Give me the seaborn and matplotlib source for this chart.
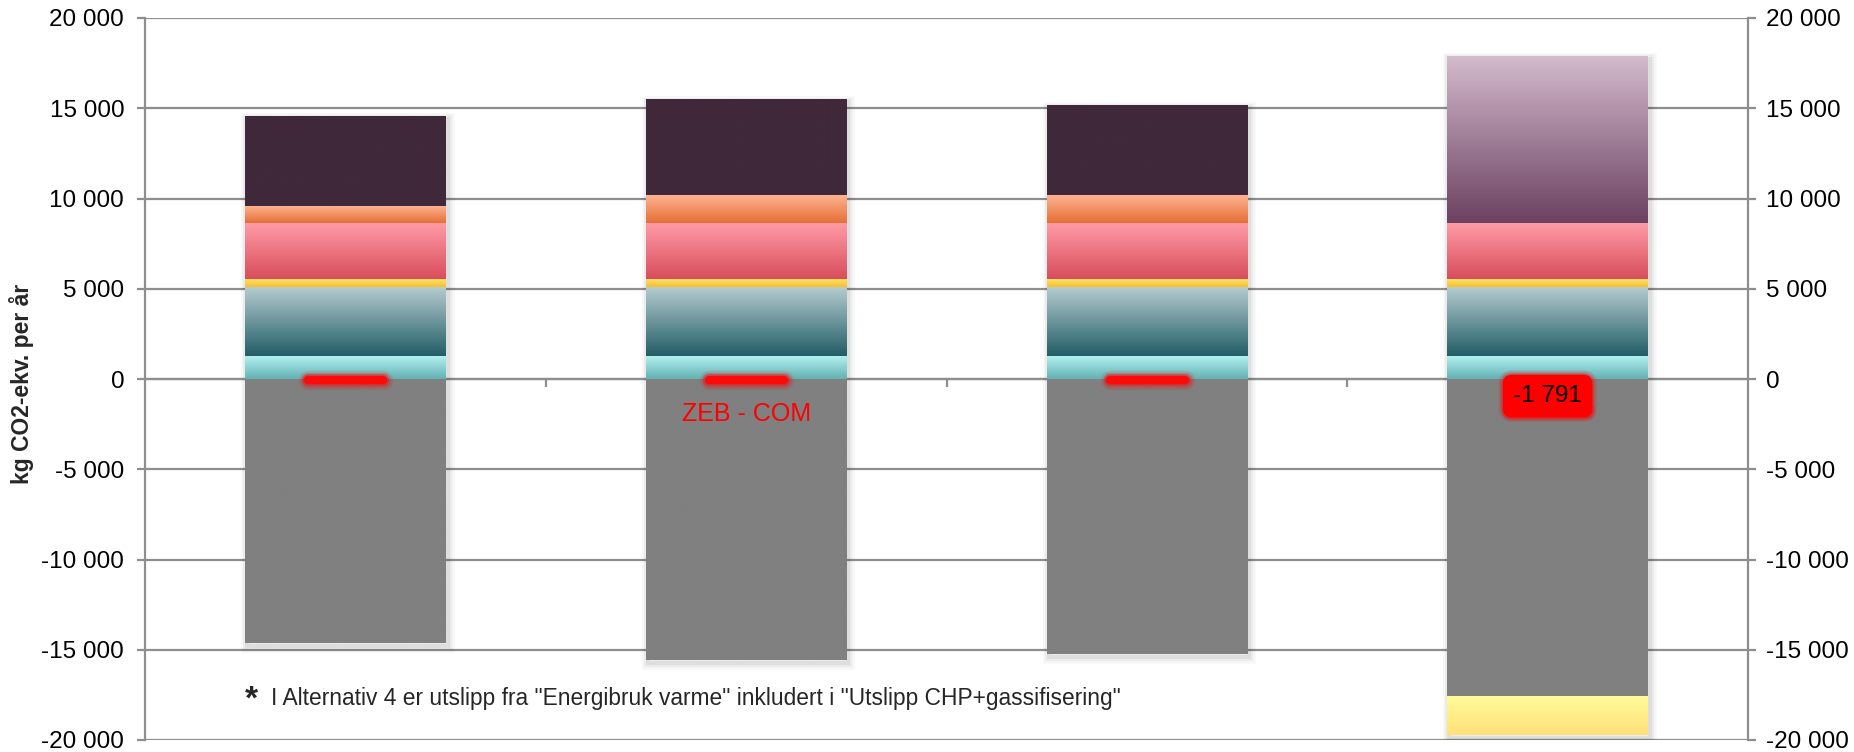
import numpy as np
import matplotlib
matplotlib.use("Agg")
import matplotlib.pyplot as plt
import seaborn as sns
from matplotlib import font_manager, patheffects, transforms
from matplotlib.patches import Rectangle
from matplotlib.markers import MarkerStyle
from matplotlib.colors import to_rgb
from matplotlib.ticker import FuncFormatter

# ---------------------------------------------------------------- data
categories = ["Alternativ 1", "Alternativ 2", "Alternativ 3", "Alternativ 4"]

# emissions stacked upwards from zero (kg CO2-ekv. per år)
drift = [1260, 1260, 1260, 1260]
materialer = [3810, 3810, 3810, 3810]
transport = [450, 450, 450, 450]
energibruk_el = [3100, 3100, 3100, 3100]
energibruk_varme = [990, 1600, 1600, 0]
utslipp_annet = [4980, 5310, 4980, 0]
utslipp_chp = [0, 0, 0, 9300]

# credits stacked downwards from zero
eksport_el = [-14630, -15570, -15240, -17560]
eksport_varme = [0, 0, 0, -2151]

yticks = list(range(-20000, 20001, 5000))
footnote = 'I Alternativ 4 er utslipp fra "Energibruk varme" inkludert i "Utslipp CHP+gassifisering"'
ylabel = "kg CO2-ekv. per år"
zero_label = "ZEB - COM"

# series, with gradient colours (top, bottom)
series = [
    (drift, ("#b4f0f0", "#62b1b3")),
    (materialer, ("#b5ccd0", "#225d66")),
    (transport, ("#ffe670", "#f6be2c")),
    (energibruk_el, ("#ff9ba6", "#d84d5b")),
    (energibruk_varme, ("#ffb694", "#e56f36")),
    (utslipp_annet, ("#3f293b", "#3f293b")),
    (utslipp_chp, ("#d4bbcd", "#6b4161")),
    (eksport_el, ("#808080", "#808080")),
    (eksport_varme, ("#fffb99", "#ffe07a")),
]

# ---------------------------------------------------------------- style
sns.set_theme(style="white")
names = {f.name for f in font_manager.fontManager.ttflist}
base_font = "Liberation Sans" if "Liberation Sans" in names else "DejaVu Sans"
narrow_font = "Liberation Sans Narrow" if "Liberation Sans Narrow" in names else base_font
plt.rcParams["font.family"] = [base_font, "DejaVu Sans"]

GRID = "#8e8e8e"
W, H = 1854, 752
fig = plt.figure(figsize=(W / 100, H / 100), dpi=100)
ax = fig.add_axes([145 / W, 1 - 740 / H, (1748 - 145) / W, (740 - 18) / H])

# ---------------------------------------------------------------- bars
pos_base = np.zeros(len(categories))
neg_base = np.zeros(len(categories))
for values, (c_top, c_bot) in series:
    vals = np.asarray(values, dtype=float)
    sns.barplot(x=categories, y=vals, color=c_bot, width=0.5, errorbar=None,
                ax=ax, zorder=2.9, linewidth=0)
    cont = ax.containers[-1]
    for i, patch in enumerate(cont.patches):
        v = vals[i]
        if v >= 0:
            bottom = pos_base[i]
            pos_base[i] += v
        else:
            bottom = neg_base[i]
            neg_base[i] += v
        patch.set_y(bottom)
        patch.set_height(v)
        if v == 0:
            patch.set_visible(False)
            continue
        x0 = patch.get_x()
        x1 = x0 + patch.get_width()
        lo, hi = min(bottom, bottom + v), max(bottom, bottom + v)
        t = np.linspace(0, 1, 256)[:, None]
        grad = (1 - t) * np.array(to_rgb(c_bot)) + t * np.array(to_rgb(c_top))
        im = ax.imshow(grad[:, None, :], extent=(x0, x1, lo, hi), origin="lower",
                       aspect="auto", interpolation="bilinear", zorder=3)
        im.set_clip_path(patch)

# soft drop shadow around every column
shadow_tr = transforms.offset_copy(ax.transData, fig=fig, x=2, y=-3, units="dots")
for i in range(len(categories)):
    top, bottom = pos_base[i], neg_base[i]
    for lw, a in [(9, 0.03), (6, 0.045), (3, 0.06)]:
        ax.add_patch(Rectangle((i - 0.25, bottom), 0.5, top - bottom, fc="none",
                               ec="black", lw=lw, alpha=a, transform=shadow_tr,
                               zorder=2.8))

# net result per alternative, drawn as glowing red dashes
net = pos_base + neg_base
xs = np.arange(len(categories))
dash = MarkerStyle("_", capstyle="round")
for extra, a in [(8, 0.12), (5, 0.2), (2.5, 0.35)]:
    ax.plot(xs, net, ls="none", marker=dash, ms=54, mew=6 + extra,
            color="red", alpha=a, zorder=5)
ax.plot(xs, net, ls="none", marker=dash, ms=54, mew=6, color="#ff0a0a", zorder=5.5)

ax.annotate(zero_label, xy=(1, net[1]), xytext=(0, -25), textcoords="offset points",
            ha="center", va="center", color="#ff0000", fontsize=18, zorder=6)

net_txt = f"{int(round(net[3])):,}".replace(",", " ")
ann = ax.annotate(net_txt, xy=(3, net[3]), xytext=(0, 11), textcoords="offset points",
                  ha="center", va="center", color="black", fontsize=17.5, zorder=7,
                  bbox=dict(boxstyle="round,pad=0.4,rounding_size=0.35",
                            fc="#ff0000", ec="#ff0000", lw=1))
ann.get_bbox_patch().set_path_effects([
    patheffects.Stroke(linewidth=7, foreground="red", alpha=0.15),
    patheffects.Stroke(linewidth=4, foreground="red", alpha=0.3),
    patheffects.Normal(),
])

# ---------------------------------------------------------------- axes
fmt = FuncFormatter(lambda v, _: f"{int(v):,}".replace(",", " "))
ax.set_xlim(-0.5, len(categories) - 0.5)
ax.set_ylim(yticks[0], yticks[-1])
ax.set_yticks(yticks)
ax.yaxis.set_major_formatter(fmt)
ax.set_xticks([0.5, 1.5, 2.5])
ax.set_xticklabels([])
ax.set_xlabel("")
ax.set_ylabel("")
ax.yaxis.grid(True, color=GRID, lw=1.6)
ax.xaxis.grid(False)
ax.set_axisbelow(True)

for side in ["top", "right"]:
    ax.spines[side].set_visible(False)
ax.spines["left"].set_color(GRID)
ax.spines["left"].set_linewidth(1.6)
ax.spines["bottom"].set_position(("data", 0))
ax.spines["bottom"].set_color(GRID)
ax.spines["bottom"].set_linewidth(1.6)
ax.tick_params(axis="y", left=True, direction="out", length=6, width=1.6,
               color=GRID, labelsize=17.5, pad=9, labelcolor="black")
ax.tick_params(axis="x", bottom=True, direction="out", length=6, width=1.6,
               color=GRID, labelbottom=False)

ax2 = ax.twinx()
ax2.set_ylim(yticks[0], yticks[-1])
ax2.set_yticks(yticks)
ax2.yaxis.set_major_formatter(fmt)
for side in ["top", "left", "bottom"]:
    ax2.spines[side].set_visible(False)
ax2.spines["right"].set_color(GRID)
ax2.spines["right"].set_linewidth(1.6)
ax2.tick_params(axis="y", right=True, direction="out", length=6, width=1.6,
                color=GRID, labelsize=17.5, pad=7, labelcolor="black")
ax2.grid(False)

# ---------------------------------------------------------------- text
fig.text(22 / W, 1 - 384 / H, ylabel, rotation=90, ha="center", va="center",
         fontsize=16.5, fontweight="bold", family=[narrow_font, "DejaVu Sans"])
fig.text(245 / W, 1 - 700 / H, "*", ha="left", va="center", fontsize=24,
         fontweight="bold")
fig.text(271 / W, 1 - 698 / H, footnote, ha="left", va="center", fontsize=16.4,
         family=[narrow_font, "DejaVu Sans"])

fig.savefig("out.png", dpi=100)
